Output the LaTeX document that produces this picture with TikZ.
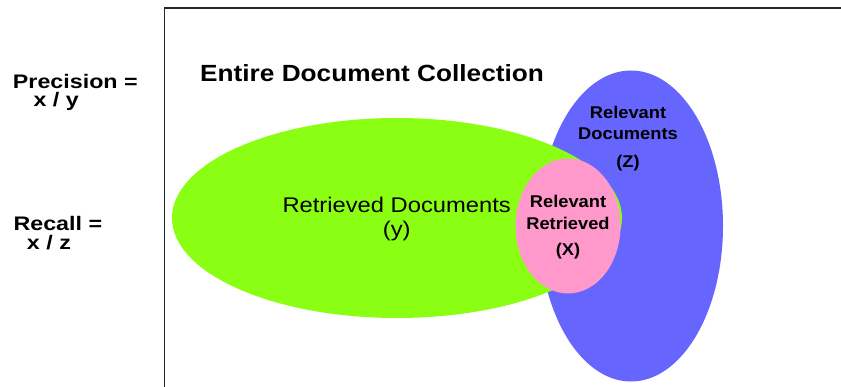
\documentclass[tikz,border=0pt]{standalone}
\usepackage{fontspec}
\setmainfont{Liberation Sans}
\usetikzlibrary{shapes.geometric}
\definecolor{retrgreen}{RGB}{138,255,20}
\definecolor{relblue}{RGB}{102,102,255}
\definecolor{bothpink}{RGB}{255,153,204}
\tikzset{
  setbox/.style={ellipse, inner sep=0pt},
  lbl/.style={inner sep=0pt, xscale=1.12},
  big/.style={lbl, font=\fontsize{23.4}{28}\selectfont\bfseries},
  mid/.style={lbl, font=\fontsize{21.2}{25}\selectfont},
  side/.style={lbl, xscale=1.06, font=\fontsize{19.6}{24}\selectfont\bfseries},
  small/.style={lbl, xscale=0.96, font=\fontsize{17}{20}\selectfont\bfseries}
}
\begin{document}
\begin{tikzpicture}[x=1pt, y=-1pt]
\useasboundingbox (0,0) rectangle (841,387);
% collection frame
\draw[black!85, line width=1.3pt] (164.5,387) -- (164.5,8) -- (841,8);
% the three sets
\node[setbox, fill=relblue, minimum width=184, minimum height=311] (rel) at (631,226) {};
\node[setbox, fill=retrgreen, minimum width=450, minimum height=200] (retr) at (397,218) {};
\node[setbox, fill=bothpink, minimum width=105, minimum height=135] (both) at (568,226) {};
% labels
\node[big, anchor=base west] (title) at (200,81.7) {Entire Document Collection};
\node[mid, anchor=base] (retr1) at (396.7,212.7) {Retrieved Documents};
\node[mid, anchor=base] (retr2) at (396.7,237) {(y)};
\node[small, anchor=base] (rel1) at (628,119) {Relevant};
\node[small, anchor=base] (rel2) at (628,140) {Documents};
\node[small, anchor=base] (rel3) at (628,168) {(Z)};
\node[small, anchor=base] (both1) at (568,207.3) {Relevant};
\node[small, anchor=base] (both2) at (568,230) {Retrieved};
\node[small, anchor=base] (both3) at (568,256) {(X)};
\node[side, anchor=base west] (prec1) at (12.7,88.3) {Precision =};
\node[side, anchor=base west] (prec2) at (33.3,107) {x / y};
\node[side, anchor=base west] (rec1) at (13.3,231) {Recall =};
\node[side, anchor=base west] (rec2) at (26.7,250) {x / z};
\end{tikzpicture}
\end{document}
